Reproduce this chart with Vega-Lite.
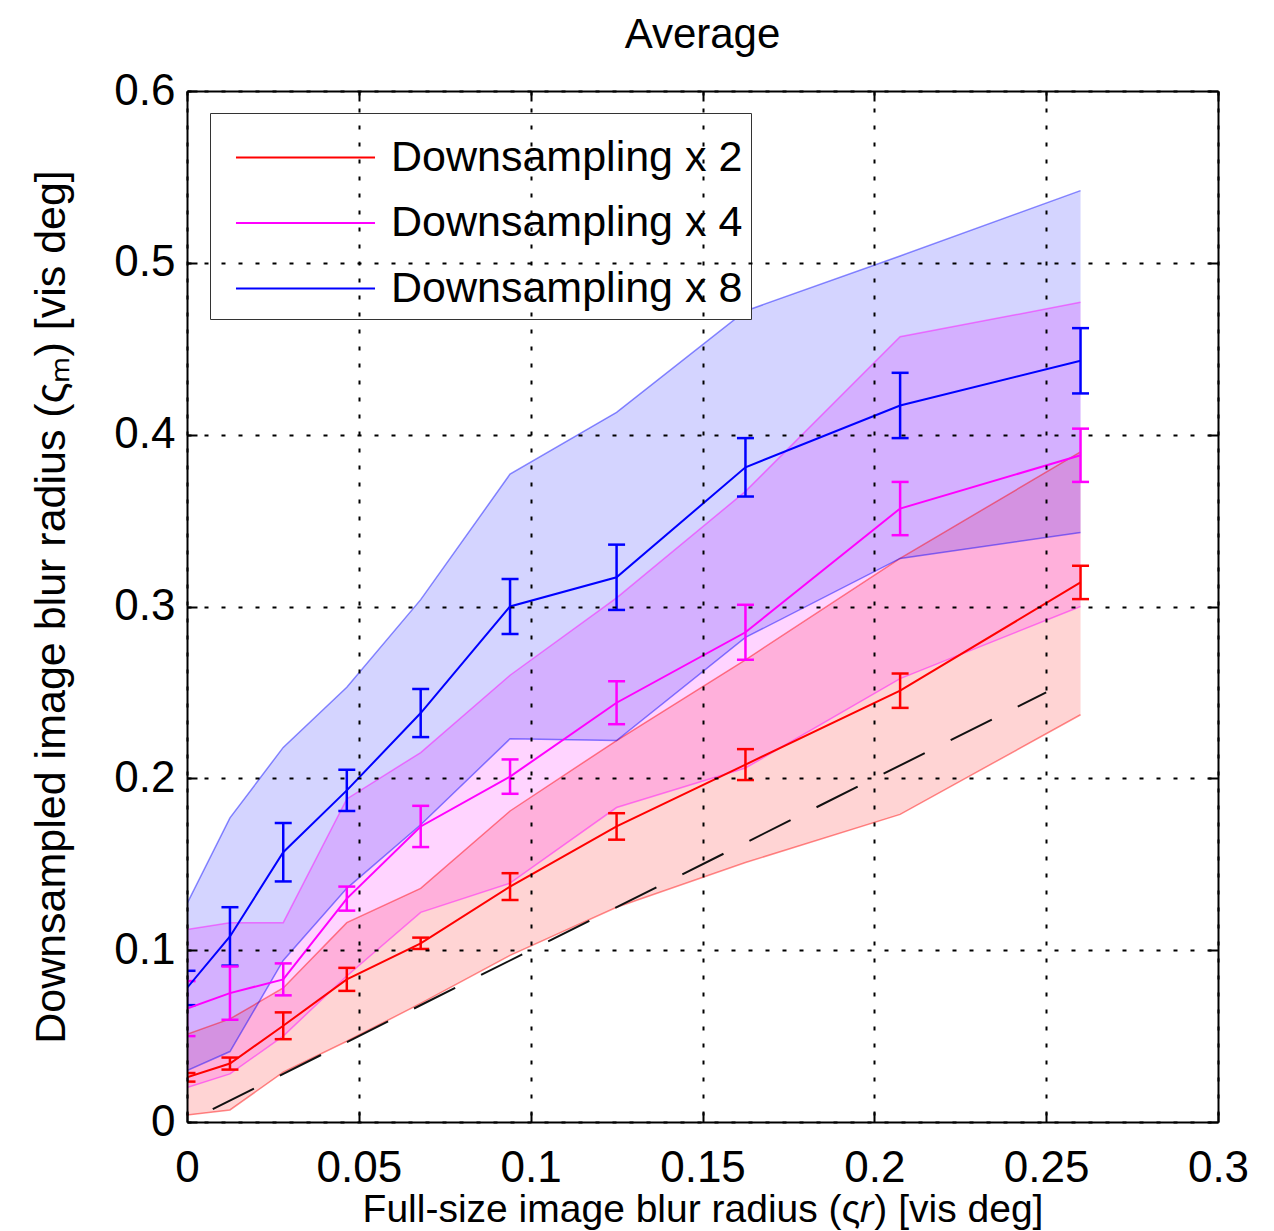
{
  "$schema": "https://vega.github.io/schema/vega-lite/v6.json",
  "width": 1031,
  "height": 1031,
  "autosize": {"type": "none"},
  "padding": {"left": 187, "top": 91, "right": 56, "bottom": 109},
  "background": "white",
  "title": {"text": "Average", "fontSize": 42, "font": "Liberation Sans", "fontWeight": "normal", "color": "black", "offset": 12, "anchor": "middle"},
  "config": {"view": {"stroke": null}},
  "datasets": {
    "pts": [
      {"series": "Downsampling x 2", "x": 0, "mean": 0.026, "err_lo": 0.0235, "err_hi": 0.0285, "band_lo": 0.004, "band_hi": 0.051},
      {"series": "Downsampling x 2", "x": 0.0125, "mean": 0.034, "err_lo": 0.0305, "err_hi": 0.0375, "band_lo": 0.007, "band_hi": 0.060},
      {"series": "Downsampling x 2", "x": 0.028, "mean": 0.056, "err_lo": 0.0482, "err_hi": 0.0638, "band_lo": 0.029, "band_hi": 0.078},
      {"series": "Downsampling x 2", "x": 0.0465, "mean": 0.083, "err_lo": 0.0763, "err_hi": 0.0897, "band_lo": 0.047, "band_hi": 0.116},
      {"series": "Downsampling x 2", "x": 0.068, "mean": 0.104, "err_lo": 0.1007, "err_hi": 0.1073, "band_lo": 0.069, "band_hi": 0.136},
      {"series": "Downsampling x 2", "x": 0.094, "mean": 0.137, "err_lo": 0.1292, "err_hi": 0.1448, "band_lo": 0.097, "band_hi": 0.181},
      {"series": "Downsampling x 2", "x": 0.125, "mean": 0.172, "err_lo": 0.1643, "err_hi": 0.1797, "band_lo": 0.125, "band_hi": 0.222},
      {"series": "Downsampling x 2", "x": 0.1625, "mean": 0.208, "err_lo": 0.199, "err_hi": 0.217, "band_lo": 0.151, "band_hi": 0.269},
      {"series": "Downsampling x 2", "x": 0.2075, "mean": 0.251, "err_lo": 0.241, "err_hi": 0.261, "band_lo": 0.179, "band_hi": 0.328},
      {"series": "Downsampling x 2", "x": 0.26, "mean": 0.314, "err_lo": 0.3043, "err_hi": 0.3237, "band_lo": 0.237, "band_hi": 0.390},
      {"series": "Downsampling x 4", "x": 0, "mean": 0.066, "err_lo": 0.050, "err_hi": 0.082, "band_lo": 0.020, "band_hi": 0.112},
      {"series": "Downsampling x 4", "x": 0.0125, "mean": 0.075, "err_lo": 0.0595, "err_hi": 0.0905, "band_lo": 0.028, "band_hi": 0.116},
      {"series": "Downsampling x 4", "x": 0.028, "mean": 0.083, "err_lo": 0.0737, "err_hi": 0.0923, "band_lo": 0.050, "band_hi": 0.116},
      {"series": "Downsampling x 4", "x": 0.0465, "mean": 0.130, "err_lo": 0.123, "err_hi": 0.137, "band_lo": 0.085, "band_hi": 0.188},
      {"series": "Downsampling x 4", "x": 0.068, "mean": 0.172, "err_lo": 0.160, "err_hi": 0.184, "band_lo": 0.122, "band_hi": 0.215},
      {"series": "Downsampling x 4", "x": 0.094, "mean": 0.201, "err_lo": 0.191, "err_hi": 0.211, "band_lo": 0.139, "band_hi": 0.260},
      {"series": "Downsampling x 4", "x": 0.125, "mean": 0.244, "err_lo": 0.2315, "err_hi": 0.2565, "band_lo": 0.183, "band_hi": 0.305},
      {"series": "Downsampling x 4", "x": 0.1625, "mean": 0.285, "err_lo": 0.269, "err_hi": 0.301, "band_lo": 0.206, "band_hi": 0.367},
      {"series": "Downsampling x 4", "x": 0.2075, "mean": 0.357, "err_lo": 0.3415, "err_hi": 0.3725, "band_lo": 0.258, "band_hi": 0.457},
      {"series": "Downsampling x 4", "x": 0.26, "mean": 0.388, "err_lo": 0.3725, "err_hi": 0.4035, "band_lo": 0.300, "band_hi": 0.477},
      {"series": "Downsampling x 8", "x": 0, "mean": 0.078, "err_lo": 0.068, "err_hi": 0.088, "band_lo": 0.030, "band_hi": 0.127},
      {"series": "Downsampling x 8", "x": 0.0125, "mean": 0.108, "err_lo": 0.091, "err_hi": 0.125, "band_lo": 0.041, "band_hi": 0.177},
      {"series": "Downsampling x 8", "x": 0.028, "mean": 0.157, "err_lo": 0.140, "err_hi": 0.174, "band_lo": 0.094, "band_hi": 0.218},
      {"series": "Downsampling x 8", "x": 0.0465, "mean": 0.193, "err_lo": 0.181, "err_hi": 0.205, "band_lo": 0.136, "band_hi": 0.253},
      {"series": "Downsampling x 8", "x": 0.068, "mean": 0.238, "err_lo": 0.224, "err_hi": 0.252, "band_lo": 0.173, "band_hi": 0.304},
      {"series": "Downsampling x 8", "x": 0.094, "mean": 0.300, "err_lo": 0.284, "err_hi": 0.316, "band_lo": 0.223, "band_hi": 0.377},
      {"series": "Downsampling x 8", "x": 0.125, "mean": 0.317, "err_lo": 0.298, "err_hi": 0.336, "band_lo": 0.222, "band_hi": 0.413},
      {"series": "Downsampling x 8", "x": 0.1625, "mean": 0.381, "err_lo": 0.364, "err_hi": 0.398, "band_lo": 0.282, "band_hi": 0.472},
      {"series": "Downsampling x 8", "x": 0.2075, "mean": 0.417, "err_lo": 0.398, "err_hi": 0.436, "band_lo": 0.328, "band_hi": 0.504},
      {"series": "Downsampling x 8", "x": 0.26, "mean": 0.443, "err_lo": 0.424, "err_hi": 0.462, "band_lo": 0.343, "band_hi": 0.542}
    ],
    "ref": [
      {"x": 0.0075, "y": 0.0075},
      {"x": 0.25, "y": 0.25}
    ]
  },
  "data": {"name": "pts"},
  "layer": [
    {
      "mark": {"type": "area", "fillOpacity": 0.17, "clip": true},
      "encoding": {
        "x": {"field": "x", "type": "quantitative", "scale": {"domain": [0, 0.3], "nice": false},
          "axis": {"orient": "bottom", "values": [0, 0.05, 0.1, 0.15, 0.2, 0.25, 0.3], "format": "~g",
            "grid": true, "gridColor": "black", "gridDash": [4, 13], "gridWidth": 2, "gridOpacity": 1,
            "domain": true, "domainColor": "black", "domainWidth": 2,
            "ticks": true, "tickColor": "black", "tickSize": -10, "tickWidth": 2,
            "labelFontSize": 44, "labelFont": "Liberation Sans", "labelColor": "black", "labelPadding": 34,
            "labelFlush": false, "labelOverlap": false, "labelBound": false,
            "title": "Full-size image blur radius (ς𝑟) [vis deg]", "titleFontSize": 39, "titleFont": "Liberation Sans",
            "titleFontWeight": "normal", "titleColor": "black", "titlePadding": 0, "zindex": 1}},
        "y": {"field": "band_lo", "type": "quantitative", "scale": {"domain": [0, 0.6], "nice": false},
          "axis": {"orient": "left", "values": [0, 0.1, 0.2, 0.3, 0.4, 0.5, 0.6], "format": "~g",
            "grid": true, "gridColor": "black", "gridDash": [4, 13], "gridWidth": 2, "gridOpacity": 1,
            "domain": true, "domainColor": "black", "domainWidth": 2,
            "ticks": true, "tickColor": "black", "tickSize": -10, "tickWidth": 2,
            "labelFontSize": 44, "labelFont": "Liberation Sans", "labelColor": "black", "labelPadding": 22,
            "labelFlush": false, "labelOverlap": false, "labelBound": false,
            "title": "Downsampled image blur radius (ςₘ) [vis deg]", "titleFontSize": 43, "titleFont": "Liberation Sans",
            "titleFontWeight": "normal", "titleColor": "black", "titlePadding": 40, "zindex": 1}},
        "y2": {"field": "band_hi"},
        "fill": {"field": "series", "type": "nominal",
          "scale": {"range": ["#ff0000", "#ff00ff", "#0000ff"]},
          "legend": null}
      }
    },
    {
      "mark": {"type": "line", "strokeWidth": 1.5, "strokeOpacity": 0.45, "clip": true},
      "encoding": {
        "x": {"field": "x", "type": "quantitative", "axis": null},
        "y": {"field": "band_hi", "type": "quantitative", "axis": null},
        "stroke": {"field": "series", "type": "nominal",
          "scale": {"range": ["#ff0000", "#ff00ff", "#0000ff"]},
          "legend": null}
      }
    },
    {
      "mark": {"type": "line", "strokeWidth": 1.5, "strokeOpacity": 0.45, "clip": true},
      "encoding": {
        "x": {"field": "x", "type": "quantitative", "axis": null},
        "y": {"field": "band_lo", "type": "quantitative", "axis": null},
        "stroke": {"field": "series", "type": "nominal", "legend": null}
      }
    },
    {
      "data": {"name": "ref"},
      "mark": {"type": "line", "strokeWidth": 2, "color": "#111111", "strokeDash": [46, 29]},
      "encoding": {
        "x": {"field": "x", "type": "quantitative",
          "axis": {"orient": "top", "values": [0, 0.05, 0.1, 0.15, 0.2, 0.25, 0.3], "labels": false, "grid": false,
            "domain": true, "domainColor": "black", "domainWidth": 2, "ticks": true, "tickColor": "black",
            "tickSize": -10, "tickWidth": 2, "title": null, "zindex": 1}},
        "y": {"field": "y", "type": "quantitative",
          "axis": {"orient": "right", "values": [0, 0.1, 0.2, 0.3, 0.4, 0.5, 0.6], "labels": false, "grid": false,
            "domain": true, "domainColor": "black", "domainWidth": 2, "ticks": true, "tickColor": "black",
            "tickSize": -10, "tickWidth": 2, "title": null, "zindex": 1}}
      }
    },
    {
      "mark": {"type": "rule", "strokeWidth": 2.5, "clip": true},
      "encoding": {
        "x": {"field": "x", "type": "quantitative", "axis": null},
        "y": {"field": "err_lo", "type": "quantitative", "axis": null},
        "y2": {"field": "err_hi"},
        "stroke": {"field": "series", "type": "nominal", "legend": null}
      }
    },
    {
      "mark": {"type": "tick", "orient": "horizontal", "size": 17, "thickness": 2.5, "opacity": 1, "clip": true},
      "encoding": {
        "x": {"field": "x", "type": "quantitative", "axis": null},
        "y": {"field": "err_lo", "type": "quantitative", "axis": null},
        "fill": {"field": "series", "type": "nominal", "legend": null}
      }
    },
    {
      "mark": {"type": "tick", "orient": "horizontal", "size": 17, "thickness": 2.5, "opacity": 1, "clip": true},
      "encoding": {
        "x": {"field": "x", "type": "quantitative", "axis": null},
        "y": {"field": "err_hi", "type": "quantitative", "axis": null},
        "fill": {"field": "series", "type": "nominal", "legend": null}
      }
    },
    {
      "mark": {"type": "line", "strokeWidth": 2, "clip": true},
      "encoding": {
        "x": {"field": "x", "type": "quantitative", "axis": null},
        "y": {"field": "mean", "type": "quantitative", "axis": null},
        "color": {"field": "series", "type": "nominal",
          "scale": {"domain": ["Downsampling x 2", "Downsampling x 4", "Downsampling x 8"], "range": ["#ff0000", "#ff00ff", "#0000ff"]},
          "legend": {"orient": "none", "legendX": 23, "legendY": 22, "title": " ", "titleFontSize": 10, "titlePadding": 5,
            "symbolType": "M-4,0H4", "symbolSize": 1208, "symbolStrokeWidth": 2, "symbolFillColor": "transparent",
            "labelFontSize": 43, "labelFont": "Liberation Sans",
            "labelColor": "black", "labelOffset": 64, "padding": 8, "symbolOffset": 66, "rowPadding": 21.5,
            "strokeColor": "#333333", "fillColor": "white", "labelLimit": 0, "cornerRadius": 0}}
      }
    }
  ],
  "resolve": {"axis": {"x": "independent", "y": "independent"}}
}
